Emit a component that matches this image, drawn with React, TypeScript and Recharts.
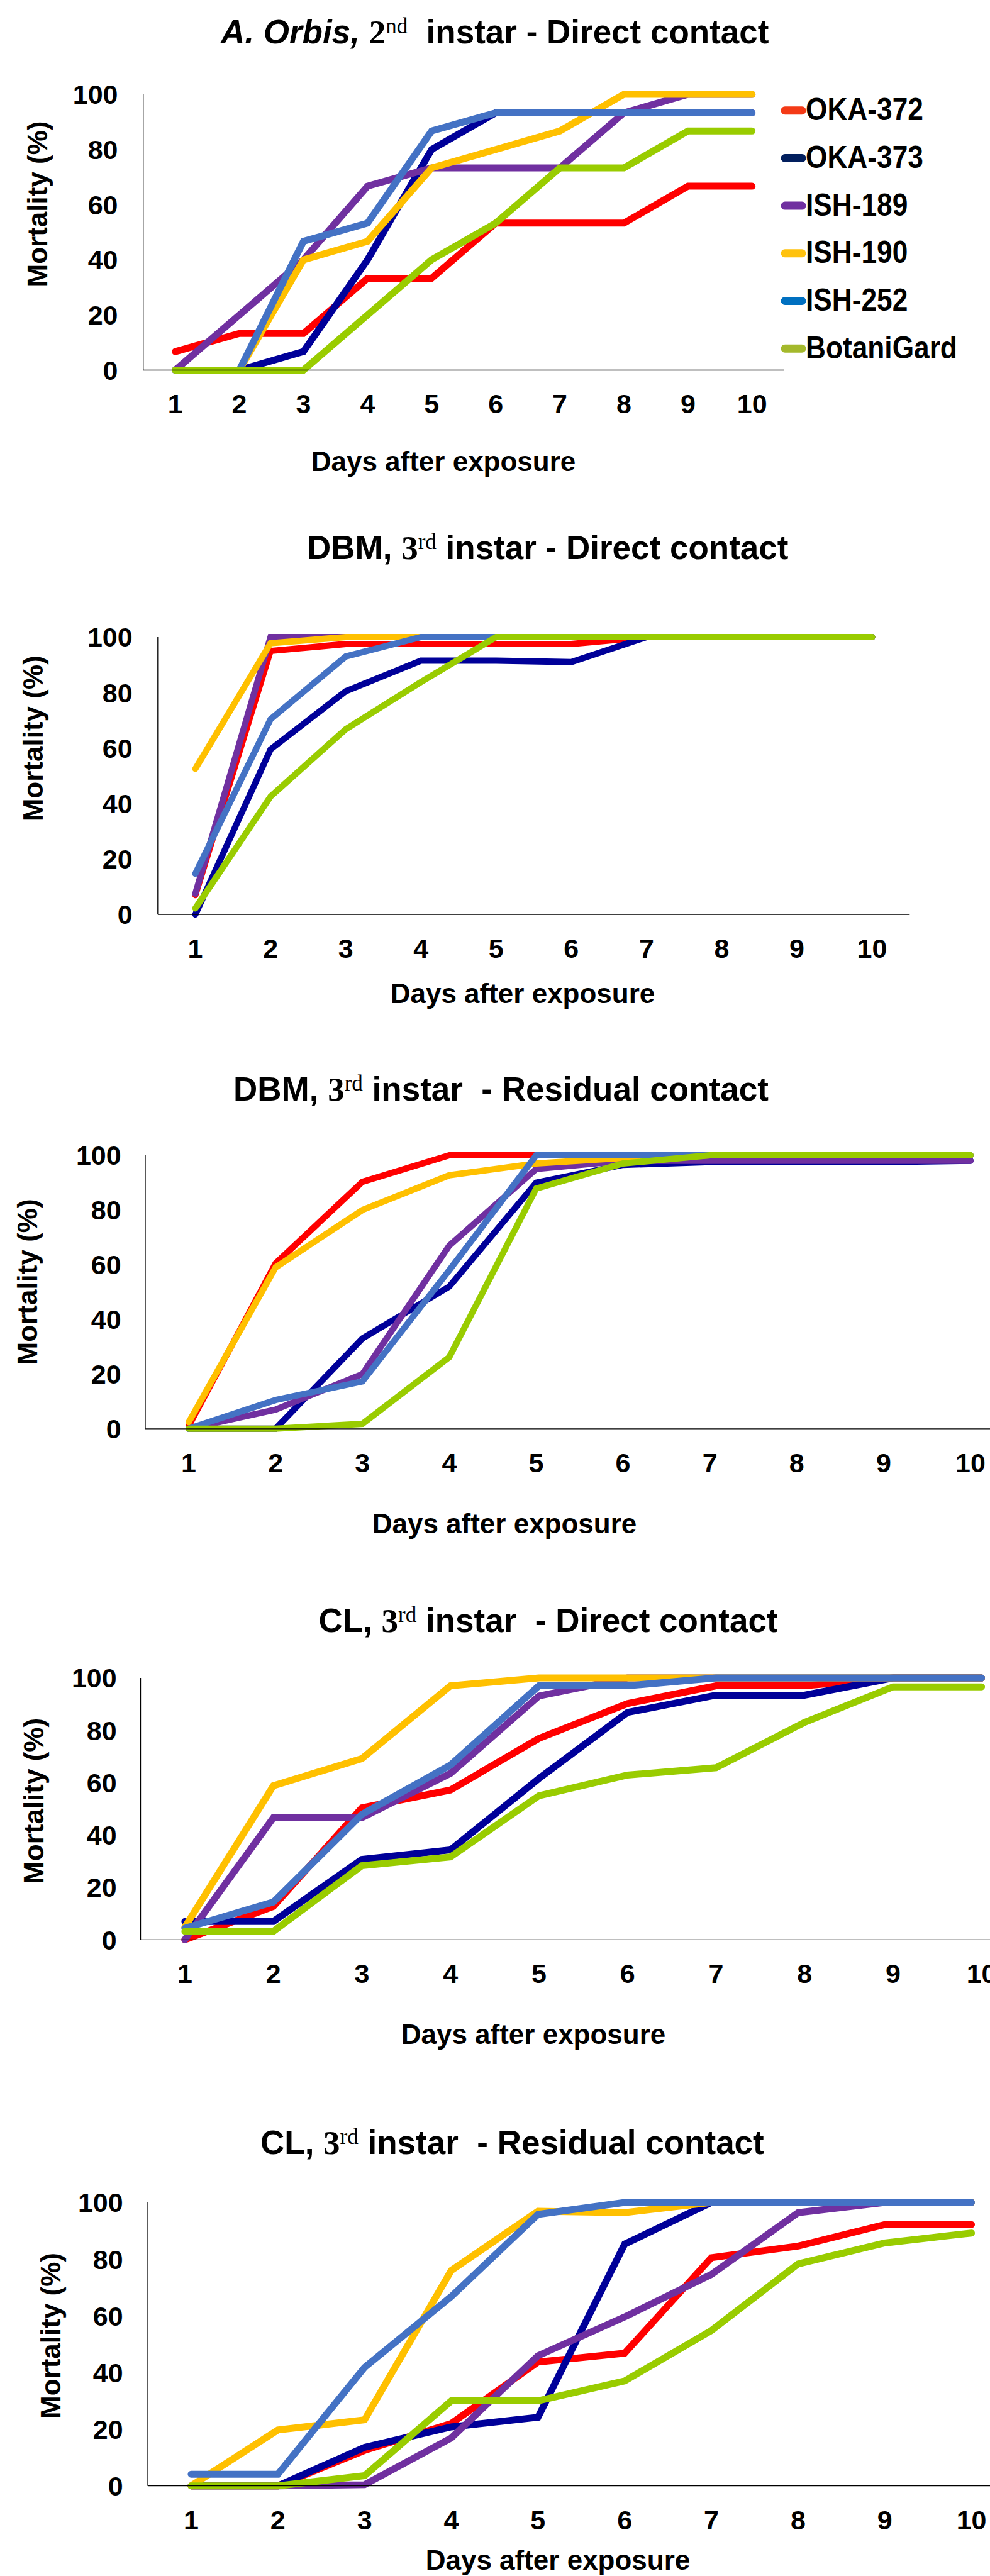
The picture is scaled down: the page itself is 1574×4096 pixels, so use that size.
import React from 'react';
import { LineChart, Line, XAxis, YAxis } from 'recharts';

const days = [1, 2, 3, 4, 5, 6, 7, 8, 9, 10];
const yTicks = [0, 20, 40, 60, 80, 100];
const seriesNames = ['OKA-372', 'OKA-373', 'ISH-189', 'ISH-190', 'ISH-252', 'BotaniGard'];
const lineColors = ['#ff0000', '#000099', '#7030a0', '#ffc000', '#4472c4', '#99cc00'];
const legendColors = ['#f43a16', '#021f5e', '#7030a0', '#ffc20e', '#0070c0', '#a4b92c'];

// mortality (%) per series, in seriesNames order
const orbisDirect = [
  [6.7, 13.3, 13.3, 33.3, 33.3, 53.3, 53.3, 53.3, 66.7, 66.7],
  [0, 0, 6.7, 40, 80, 93.3, 93.3, 93.3, 93.3, 93.3],
  [0, 20, 40, 66.7, 73.3, 73.3, 73.3, 93.3, 100, 100],
  [0, 0, 40, 46.7, 73.3, 80, 86.7, 100, 100, 100],
  [0, 0, 46.7, 53.3, 86.7, 93.3, 93.3, 93.3, 93.3, 93.3],
  [0, 0, 0, 20, 40, 53.3, 73.3, 73.3, 86.7, 86.7],
];

const dbmDirect = [
  [7, 95, 97.5, 97.5, 97.5, 97.5, 100, 100, 100, 100],
  [0, 59.5, 80.5, 91.5, 91.5, 91, 100, 100, 100, 100],
  [7.5, 100, 100, 100, 100, 100, 100, 100, 100, 100],
  [52.5, 97.8, 100, 100, 100, 100, 100, 100, 100, 100],
  [14.7, 70.4, 93, 100, 100, 100, 100, 100, 100, 100],
  [2.2, 42.5, 66.8, 83.8, 100, 100, 100, 100, 100, 100],
];

const dbmResidual = [
  [1, 60.5, 90.3, 100, 100, 100, 100, 100, 100, 100],
  [0, 0, 33, 52, 90, 96.5, 97.5, 97.5, 97.5, 98],
  [0, 7, 20, 67, 95, 98, 98, 98, 98, 98],
  [2.4, 59, 80, 92.7, 97, 99, 100, 100, 100, 100],
  [0, 10.5, 17.3, 58, 100, 100, 100, 100, 100, 100],
  [0, 0, 1.8, 26.2, 87.8, 97, 100, 100, 100, 100],
];

const clDirect = [
  [0, 12.7, 50.4, 57.2, 76.9, 90.2, 97, 97, 100, 100],
  [7, 7, 30.7, 34.3, 61.6, 86.8, 93.4, 93.4, 100, 100],
  [0, 46.6, 46.6, 63.5, 93.1, 100, 100, 100, 100, 100],
  [4.8, 58.8, 69.2, 97, 100, 100, 100, 100, 100, 100],
  [4.4, 14.4, 47.9, 66.7, 97, 97, 100, 100, 100, 100],
  [3.2, 3.2, 28.3, 31.6, 55, 62.9, 65.7, 83, 96.6, 96.6],
];

const clResidual = [
  [0, 0, 12.5, 22, 43.7, 46.8, 80.5, 84.6, 92.2, 92.2],
  [0, 0, 13.6, 20.8, 24.2, 85.3, 100, 100, 100, 100],
  [0, 0, 0.4, 16.9, 45.9, 59.6, 74.6, 96.4, 100, 100],
  [0, 19.7, 23.3, 76, 96.9, 96.4, 100, 100, 100, 100],
  [4.1, 4.1, 41.8, 66.8, 95.8, 100, 100, 100, 100, 100],
  [0, 0, 3.6, 30, 30, 37, 54.8, 78.3, 85.7, 89.2],
];

const FONT = "'Liberation Sans', Arial, Helvetica, sans-serif";
const SERIF = "'Liberation Serif', 'Times New Roman', serif";

const panels = [
  {
    data: orbisDirect, species: 'A. Orbis,', italic: true, instar: '2', sup: 'nd', rest: '  instar - Direct contact',
    titleX: 351, titleBase: 69, plotLeft: 227.7, band: 101.9, plotTop: 149.5, plotBottom: 588,
    yTickRight: 187.5, xLabelX: 705, xLabelBase: 749, yLabelX: 63.5, yLabelY: 324.5, stroke: 11, legend: true,
  },
  {
    data: dbmDirect, species: 'DBM,', italic: false, instar: '3', sup: 'rd', rest: ' instar - Direct contact',
    titleX: 488, titleBase: 889, plotLeft: 250.8, band: 119.55, plotTop: 1013.1, plotBottom: 1454.2,
    yTickRight: 210.6, xLabelX: 831, xLabelBase: 1595, yLabelX: 56.5, yLabelY: 1174.3, stroke: 10, legend: false,
  },
  {
    data: dbmResidual, species: 'DBM,', italic: false, instar: '3', sup: 'rd', rest: ' instar  - Residual contact',
    titleX: 371, titleBase: 1750, plotLeft: 231, band: 138.1, plotTop: 1836.9, plotBottom: 2271.7,
    yTickRight: 192.6, xLabelX: 802, xLabelBase: 2438, yLabelX: 47.6, yLabelY: 2038.4, stroke: 10, legend: false,
  },
  {
    data: clDirect, species: 'CL,', italic: false, instar: '3', sup: 'rd', rest: ' instar  - Direct contact',
    titleX: 506.5, titleBase: 2595, plotLeft: 223.5, band: 140.75, plotTop: 2667.7, plotBottom: 3084,
    yTickRight: 185.6, xLabelX: 848, xLabelBase: 3250, yLabelX: 58, yLabelY: 2863.9, stroke: 11, legend: false,
  },
  {
    data: clResidual, species: 'CL,', italic: false, instar: '3', sup: 'rd', rest: ' instar  - Residual contact',
    titleX: 414, titleBase: 3425, plotLeft: 235, band: 137.85, plotTop: 3501.5, plotBottom: 3952.2,
    yTickRight: 195.6, xLabelX: 887, xLabelBase: 4086, yLabelX: 85, yLabelY: 3714, stroke: 11, legend: false,
  },
];

const TOP_PAD = 45;
const BOTTOM_ROOM = 100;
const Y_AXIS_W = 60;
const X_AXIS_H = 30;

function Panel({ p }: { p: typeof panels[number] }) {
  const rows = days.map((d, i) => {
    const row: Record<string, number> = { day: d };
    p.data.forEach((s, k) => { row[`s${k}`] = s[i]; });
    return row;
  });
  const plotH = p.plotBottom - p.plotTop;
  const chartTop = p.plotTop - TOP_PAD;
  const height = plotH + TOP_PAD + BOTTOM_ROOM;
  const width = p.plotLeft + p.band * 10 + 10;
  const localBottom = TOP_PAD + plotH;

  const xTick = (t: any) => (
    <text x={t.x} y={localBottom + 69} textAnchor="middle" fontFamily={FONT} fontWeight="bold" fontSize={43} fill="#000">
      {t.payload.value}
    </text>
  );
  const yTick = (t: any) => (
    <text x={p.yTickRight} y={t.y + 15.4} textAnchor="end" fontFamily={FONT} fontWeight="bold" fontSize={43} fill="#000">
      {t.payload.value}
    </text>
  );

  return (
    <div style={{ position: 'absolute', left: 0, top: chartTop, width, height }}>
      <LineChart
        width={width}
        height={height}
        data={rows}
        margin={{ top: TOP_PAD, right: 10, bottom: BOTTOM_ROOM - X_AXIS_H, left: p.plotLeft - Y_AXIS_W }}
      >
        <XAxis
          type="number"
          dataKey="day"
          domain={[0.5, 10.5]}
          ticks={days}
          interval={0}
          allowDataOverflow
          height={X_AXIS_H}
          tickLine={false}
          axisLine={{ stroke: '#000', strokeWidth: 1.3 }}
          tick={xTick}
        />
        <YAxis
          type="number"
          domain={[0, 100]}
          ticks={yTicks}
          interval={0}
          width={Y_AXIS_W}
          tickLine={false}
          axisLine={{ stroke: '#000', strokeWidth: 1.3 }}
          tick={yTick}
        />
        {seriesNames.map((name, k) => (
          <Line
            key={name}
            name={name}
            type="linear"
            dataKey={`s${k}`}
            stroke={lineColors[k]}
            strokeWidth={p.stroke}
            strokeLinecap="round"
            dot={false}
            activeDot={false}
            isAnimationActive={false}
          />
        ))}
      </LineChart>
    </div>
  );
}

function Texts() {
  return (
    <svg width={1574} height={4096} style={{ position: 'absolute', left: 0, top: 0, pointerEvents: 'none' }}>
      {panels.map((p, i) => (
        <g key={i} fontFamily={FONT} fontWeight="bold" fill="#000">
          <text x={p.titleX} y={p.titleBase} fontSize={53} style={{ whiteSpace: 'pre' }}>
            <tspan fontStyle={p.italic ? 'italic' : 'normal'}>{p.species}</tspan>
            <tspan> </tspan>
            <tspan fontFamily={SERIF}>{p.instar}</tspan>
            <tspan fontFamily={SERIF} fontWeight="normal" fontSize={35} dy={-16}>{p.sup}</tspan>
            <tspan dy={16}>{p.rest}</tspan>
          </text>
          <text x={p.xLabelX} y={p.xLabelBase} fontSize={44} textAnchor="middle">Days after exposure</text>
          <text
            transform={`translate(${p.yLabelX},${p.yLabelY}) rotate(-90)`}
            x={0}
            y={11.4}
            fontSize={44}
            textAnchor="middle"
          >
            Mortality (%)
          </text>
          {p.legend && seriesNames.map((name, k) => (
            <g key={name}>
              <line
                x1={1248}
                x2={1275}
                y1={175.7 + 75.7 * k}
                y2={175.7 + 75.7 * k}
                stroke={legendColors[k]}
                strokeWidth={13}
                strokeLinecap="round"
              />
              <text transform={`translate(1281,${191.3 + 75.7 * k}) scale(0.885,1)`} fontSize={50}>{name}</text>
            </g>
          ))}
        </g>
      ))}
    </svg>
  );
}

export default function App() {
  return (
    <div style={{ position: 'absolute', left: 0, top: 0, width: 1574, height: 4096, overflow: 'hidden', background: '#fff' }}>
      {panels.map((p, i) => <Panel key={i} p={p} />)}
      <Texts />
    </div>
  );
}
